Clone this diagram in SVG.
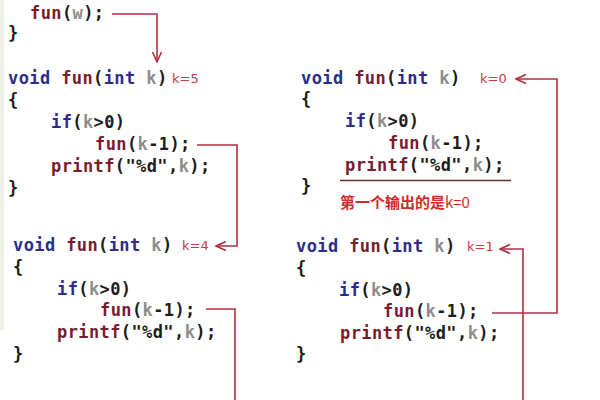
<svg xmlns="http://www.w3.org/2000/svg" width="600" height="400" viewBox="0 0 600 400">
<defs>
<style>
.code{font-family:"DejaVu Sans Mono","Liberation Mono",monospace;font-weight:bold;font-size:17px;letter-spacing:0.4px;fill:#1c1c1c}
.kw{fill:#2c2c8c}
.fn{fill:#7a1b2e}
.v{fill:#8c8c8c}
.lbl{font-family:"DejaVu Sans",sans-serif;font-size:13px;fill:#c23a4c}
.note{font-family:"Noto Sans CJK SC","DejaVu Sans",sans-serif;font-size:15px;fill:#d42a2a;font-weight:bold}
.conn{fill:none;stroke:#b32f3f;stroke-width:1.6}
</style>
<marker id="arr" markerWidth="12" markerHeight="12" refX="11" refY="6" orient="auto" markerUnits="userSpaceOnUse">
<path d="M1,1.5 L11,6 L1,10.5" fill="none" stroke="#b32f3f" stroke-width="1.6"/>
</marker>
</defs>
<rect width="600" height="400" fill="#ffffff"/>
<rect x="0" y="0" width="4" height="330" fill="#efefe9"/>

<g id="caller">
<text class="code" x="30" y="19"><tspan class="fn">fun</tspan>(<tspan class="v">w</tspan>);</text>
<text class="code" x="8" y="39">}</text>
</g>

<g id="call-k5">
<text class="code" x="8" y="84"><tspan class="kw">void</tspan> <tspan class="fn">fun</tspan>(<tspan class="kw">int</tspan> <tspan class="v">k</tspan>)</text>
<text class="lbl" x="172" y="83">k=5</text>
<text class="code" x="8" y="106">{</text>
<text class="code" x="51" y="128"><tspan class="kw">if</tspan>(<tspan class="v">k</tspan>&gt;0)</text>
<text class="code" x="95" y="150"><tspan class="fn">fun</tspan>(<tspan class="v">k</tspan>-1);</text>
<text class="code" x="51" y="172"><tspan class="fn">printf</tspan>("%d",<tspan class="v">k</tspan>);</text>
<text class="code" x="8" y="194">}</text>
</g>

<g id="call-k4">
<text class="code" x="13" y="251"><tspan class="kw">void</tspan> <tspan class="fn">fun</tspan>(<tspan class="kw">int</tspan> <tspan class="v">k</tspan>)</text>
<text class="lbl" x="182" y="250">k=4</text>
<text class="code" x="13" y="273">{</text>
<text class="code" x="57" y="295"><tspan class="kw">if</tspan>(<tspan class="v">k</tspan>&gt;0)</text>
<text class="code" x="100" y="316"><tspan class="fn">fun</tspan>(<tspan class="v">k</tspan>-1);</text>
<text class="code" x="57" y="338"><tspan class="fn">printf</tspan>("%d",<tspan class="v">k</tspan>);</text>
<text class="code" x="13" y="360">}</text>
</g>

<g id="call-k0">
<text class="code" x="301" y="84"><tspan class="kw">void</tspan> <tspan class="fn">fun</tspan>(<tspan class="kw">int</tspan> <tspan class="v">k</tspan>)</text>
<text class="lbl" x="480" y="83">k=0</text>
<text class="code" x="301" y="105">{</text>
<text class="code" x="345" y="127"><tspan class="kw">if</tspan>(<tspan class="v">k</tspan>&gt;0)</text>
<text class="code" x="388" y="149"><tspan class="fn">fun</tspan>(<tspan class="v">k</tspan>-1);</text>
<text class="code" x="345" y="171"><tspan class="fn">printf</tspan>("%d",<tspan class="v">k</tspan>);</text>
<line x1="340" y1="180.5" x2="511" y2="180.5" stroke="#6a2a2a" stroke-width="1.6"/>
<text class="code" x="301" y="192">}</text>
<text class="note" x="340" y="208">第一个输出的是<tspan font-weight="normal">k=0</tspan></text>
</g>

<g id="call-k1">
<text class="code" x="296" y="252"><tspan class="kw">void</tspan> <tspan class="fn">fun</tspan>(<tspan class="kw">int</tspan> <tspan class="v">k</tspan>)</text>
<text class="lbl" x="467" y="251">k=1</text>
<text class="code" x="296" y="274">{</text>
<text class="code" x="339" y="296"><tspan class="kw">if</tspan>(<tspan class="v">k</tspan>&gt;0)</text>
<text class="code" x="383" y="317"><tspan class="fn">fun</tspan>(<tspan class="v">k</tspan>-1);</text>
<text class="code" x="340" y="339"><tspan class="fn">printf</tspan>("%d",<tspan class="v">k</tspan>);</text>
<text class="code" x="296" y="360">}</text>
</g>

<g id="connectors">
<path class="conn" d="M112,14 H157 V62" marker-end="url(#arr)"/>
<path class="conn" d="M197,145 H237 V246 H216" marker-end="url(#arr)"/>
<path class="conn" d="M206,309 H235 V400"/>
<path class="conn" d="M492,313 H557 V79 H516" marker-end="url(#arr)"/>
<path class="conn" d="M523,400 V249 H500" marker-end="url(#arr)"/>
</g>
</svg>
